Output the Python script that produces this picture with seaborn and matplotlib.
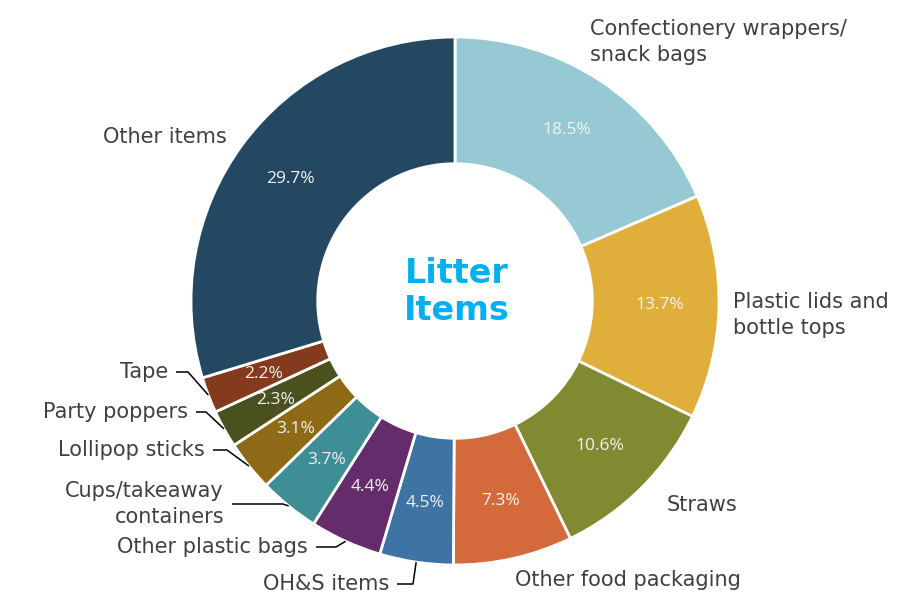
import matplotlib
matplotlib.use("Agg")
import matplotlib.pyplot as plt
import seaborn as sns
import numpy as np

# litter composition, clockwise from 12 o'clock
categories = [
    "Confectionery wrappers/\nsnack bags",
    "Plastic lids and\nbottle tops",
    "Straws",
    "Other food packaging",
    "OH&S items",
    "Other plastic bags",
    "Cups/takeaway\ncontainers",
    "Lollipop sticks",
    "Party poppers",
    "Tape",
    "Other items",
]
shares = [18.5, 13.7, 10.6, 7.3, 4.5, 4.4, 3.7, 3.1, 2.3, 2.2, 29.7]
colours = ["#96C9D3", "#E0AE3A", "#818A31", "#D46A3B", "#3E74A3", "#652C6C",
           "#3E8E95", "#8E6A17", "#4B511E", "#843A1C", "#244762"]

# label placement in pixels: (x, y, horizontal alignment, elbow x or None)
label_pos = [
    (590, 42, "left", None),
    (733, 315, "left", None),
    (667, 505, "left", None),
    (515, 580, "left", None),
    (389, 584, "right", 413),
    (308, 547, "right", 336),
    (224, 504, "right", 283),
    (205, 450, "right", 227),
    (188, 412, "right", 206),
    (168, 372, "right", 188),
    (227, 137, "right", None),
]

sns.set_theme(style="white")
plt.rcParams["font.family"] = ["DejaVu Sans"]

fig = plt.figure(figsize=(9.1, 5.95), dpi=100)
ax = fig.add_axes([0, 0, 1, 1])

cx, cy, R = 455, 301, 264
wedges, texts, autotexts = ax.pie(
    shares, colors=colours, center=(cx, cy), radius=R,
    startangle=-90, counterclock=True,
    autopct="%.1f%%", pctdistance=0.775,
    wedgeprops=dict(width=R * 0.48, edgecolor="white", linewidth=2),
    textprops=dict(color="#F2F2F2", fontsize=12.5, family="Open Sans"),
)

ax.set_xlim(0, 910)
ax.set_ylim(595, 0)
ax.set_aspect("equal")
ax.axis("off")

for w, lab, (x, y, ha, elbow) in zip(wedges, categories, label_pos):
    ax.text(x, y, lab, ha=ha, va="center", fontsize=15, color="#404040",
            linespacing=1.35, family="DejaVu Sans")
    if elbow is not None:
        ang = np.deg2rad((w.theta1 + w.theta2) / 2)
        ex, ey = cx + R * np.cos(ang), cy + R * np.sin(ang)
        ax.plot([x + 8, elbow, ex], [y, y, ey], color="#000000", lw=1.1,
                solid_capstyle="butt")

ax.text(457, 292, "Litter\nItems", ha="center", va="center", fontsize=24,
        fontweight="bold", color="#00B0F0", linespacing=1.15)

fig.savefig("out.png", dpi=100)
